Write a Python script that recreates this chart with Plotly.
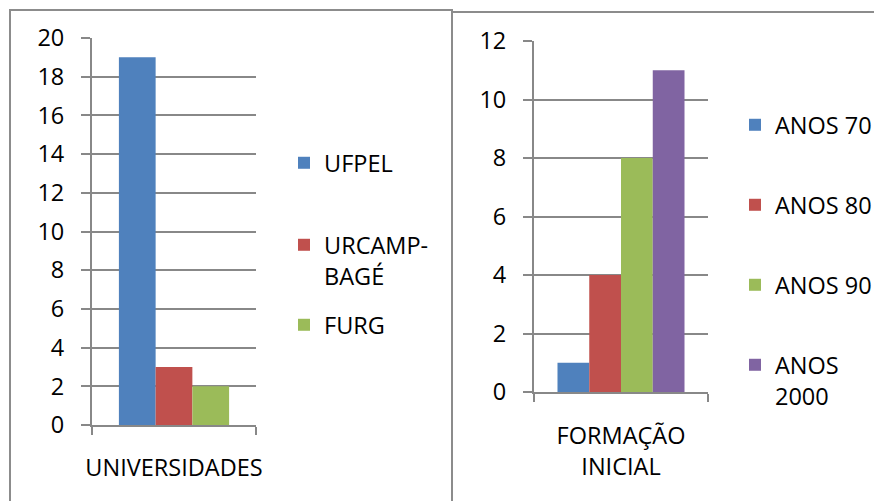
import plotly.graph_objects as go

# ---- data ----
left_categories = ["UNIVERSIDADES"]
left_series = ["UFPEL", "URCAMP-<br>BAGÉ", "FURG"]
left_values = [19, 3, 2]
left_ticks = [0, 2, 4, 6, 8, 10, 12, 14, 16, 18, 20]

right_categories = ["FORMAÇÃO<br>INICIAL"]
right_series = ["ANOS 70", "ANOS 80", "ANOS 90", "ANOS<br>2000"]
right_values = [1, 4, 8, 11]
right_ticks = [0, 2, 4, 6, 8, 10, 12]

colors = ["#4F81BD", "#C0504D", "#9BBB59", "#8064A2"]

W, H = 882, 501
OFF = 8  # default page body margin
FONT = "Open Sans"
FS = 23.5
GRID = "#888888"


def px(v):
    return (v - OFF) / W


def py(v):
    return 1 - (v - OFF) / H


fig = go.Figure()

# left chart bars
lw = 0.224
for i, (name, val) in enumerate(zip(left_series, left_values)):
    lg = "legend" if i == 0 else f"legend{i + 1}"
    fig.add_trace(go.Bar(
        x=left_categories, y=[val], name=name,
        marker=dict(color=colors[i], line=dict(width=0)),
        width=lw, offset=-1.5 * lw + i * lw,
        xaxis="x", yaxis="y", legend=lg, hoverinfo="skip",
    ))

# right chart bars
rw = 0.1825
for i, (name, val) in enumerate(zip(right_series, right_values)):
    lg = f"legend{i + 4}"
    fig.add_trace(go.Bar(
        x=right_categories, y=[val], name=name,
        marker=dict(color=colors[i], line=dict(width=0)),
        width=rw, offset=-2 * rw + i * rw,
        xaxis="x2", yaxis="y2", legend=lg, hoverinfo="skip",
    ))

axis_font = dict(family=FONT, size=FS, color="black")

xcommon = dict(
    type="category", range=[-0.5, 0.5], showgrid=False,
    showline=True, linecolor=GRID, linewidth=2,
    ticks="outside", tickson="boundaries", ticklen=8, tickwidth=2, tickcolor=GRID,
    tickfont=axis_font, fixedrange=True, tickangle=0, automargin=False,
)
ycommon = dict(
    showgrid=True, gridcolor=GRID, gridwidth=2, zeroline=False,
    showline=True, linecolor=GRID, linewidth=2,
    ticks="outside", ticklen=9, tickwidth=2, tickcolor=GRID,
    tickfont=axis_font, fixedrange=True, ticklabelstandoff=12, automargin=False,
)

legend_pos = {
    # name: (symbol centre x px, first-line centre y px)
    "legend": (302, 163),
    "legend2": (302, 245),
    "legend3": (302, 325),
    "legend4": (753, 125),
    "legend5": (753, 205),
    "legend6": (753, 285),
    "legend7": (753, 365),
}
legends = {}
for k, (cx, cy) in legend_pos.items():
    legends[k] = dict(
        x=px(cx - 18), y=py(cy - 22), xanchor="left", yanchor="top",
        font=dict(family=FONT, size=FS, color="black"),
        bgcolor="rgba(0,0,0,0)", borderwidth=0, valign="top",
        itemclick=False, itemdoubleclick=False,
    )

fig.update_layout(
    width=W, height=H,
    margin=dict(l=0, r=0, t=0, b=0, autoexpand=False),
    paper_bgcolor="white", plot_bgcolor="white",
    showlegend=True,
    xaxis=dict(xcommon, domain=[px(92), px(256)], anchor="y", ticklabelstandoff=21),
    yaxis=dict(ycommon, domain=[py(425), py(38)], range=[0, 20],
               tickvals=left_ticks, anchor="x"),
    xaxis2=dict(xcommon, domain=[px(534), px(708)], anchor="y2", ticklabelstandoff=22),
    yaxis2=dict(ycommon, domain=[py(392), py(41)], range=[0, 12],
                tickvals=right_ticks, anchor="x2"),
    shapes=[
        dict(type="rect", xref="paper", yref="paper",
             x0=px(10), x1=px(452), y0=py(530), y1=py(10),
             line=dict(color="#8c8c8c", width=2), fillcolor="rgba(0,0,0,0)"),
        dict(type="rect", xref="paper", yref="paper",
             x0=px(452), x1=px(910), y0=py(530), y1=py(12),
             line=dict(color="#8c8c8c", width=2), fillcolor="rgba(0,0,0,0)"),
    ],
    **legends,
)

fig.write_html("out.html", config={"displayModeBar": False})
